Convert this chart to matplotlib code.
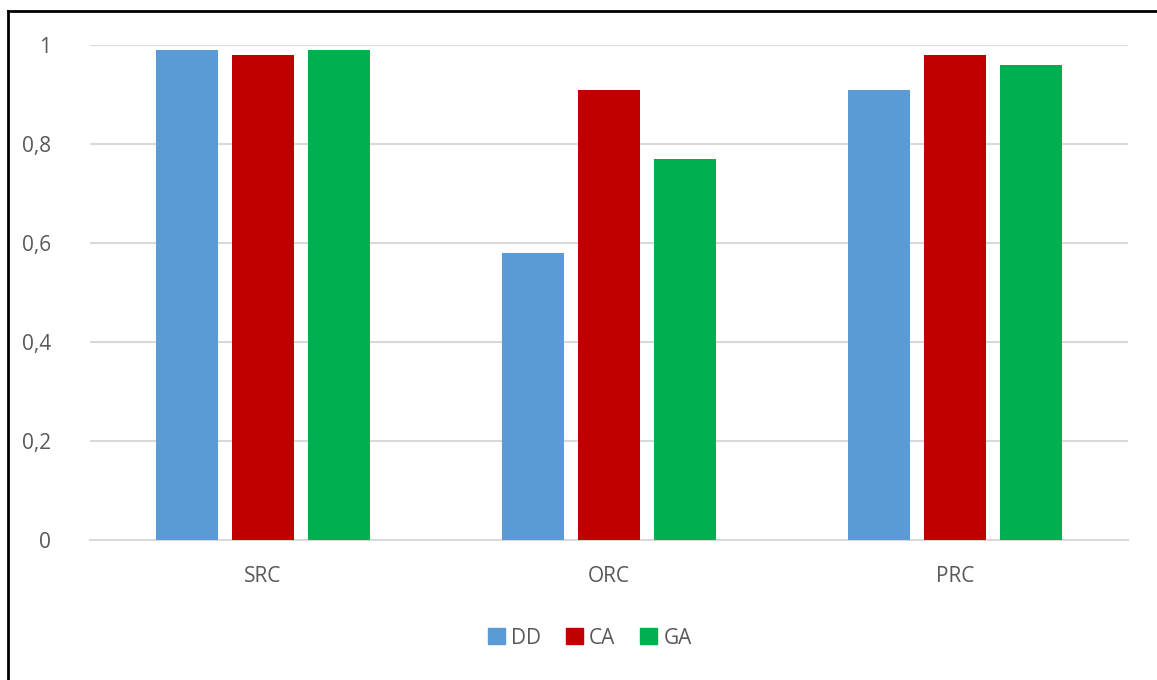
import matplotlib
matplotlib.use("Agg")
import matplotlib.pyplot as plt
from matplotlib.lines import Line2D
from matplotlib.patches import Patch
import numpy as np

categories = ["SRC", "ORC", "PRC"]
series_names = ["DD", "CA", "GA"]
dd = [0.99, 0.58, 0.91]
ca = [0.98, 0.91, 0.98]
ga = [0.99, 0.77, 0.96]
yticks = [0, 0.2, 0.4, 0.6, 0.8, 1.0]
ytick_labels = ["0", "0,2", "0,4", "0,6", "0,8", "1"]
colors = ["#5B9BD5", "#C00000", "#00B050"]

plt.rcParams['font.family'] = ['Open Sans', 'DejaVu Sans']
text_color = "#595959"

fig = plt.figure(figsize=(11.57, 6.8), dpi=100)
ax = fig.add_axes([90/1157, 1-540/680, (1128-90)/1157, (540-45)/680])

x = np.arange(len(categories))
width = 0.18
step = 0.22
for i, (vals, name) in enumerate(zip([dd, ca, ga], series_names)):
    ax.bar(x + (i-1)*step, vals, width, color=colors[i], label=name, zorder=3)

ax.set_xlim(-0.5, 2.5)
ax.set_ylim(0, 1)
ax.set_yticks(yticks)
ax.set_yticklabels(ytick_labels)
ax.set_xticks(x)
ax.set_xticklabels(categories)
ax.tick_params(axis='y', length=0, pad=28, labelsize=15, labelcolor=text_color)
ax.tick_params(axis='x', length=0, pad=19, labelsize=15, labelcolor=text_color)
ax.grid(axis='y', color="#D9D9D9", linewidth=1.5, zorder=0)
for s in ["top", "right", "left"]:
    ax.spines[s].set_visible(False)
ax.spines["bottom"].set_color("#D9D9D9")
ax.spines["bottom"].set_linewidth(1.5)

handles = [Patch(color=c) for c in colors]
fig.legend(handles, series_names, loc='center', bbox_to_anchor=(590/1157, 1-638/680),
           ncol=3, frameon=False, fontsize=15, labelcolor=text_color,
           handlelength=0.8, handleheight=0.8, handletextpad=0.3, columnspacing=1.2)

fig.add_artist(Line2D([8/1157, 8/1157], [0, 1-11/680], color='black', linewidth=2, transform=fig.transFigure))
fig.add_artist(Line2D([8/1157, 1], [1-11/680, 1-11/680], color='black', linewidth=2, transform=fig.transFigure))

fig.savefig("out.png", dpi=100)
